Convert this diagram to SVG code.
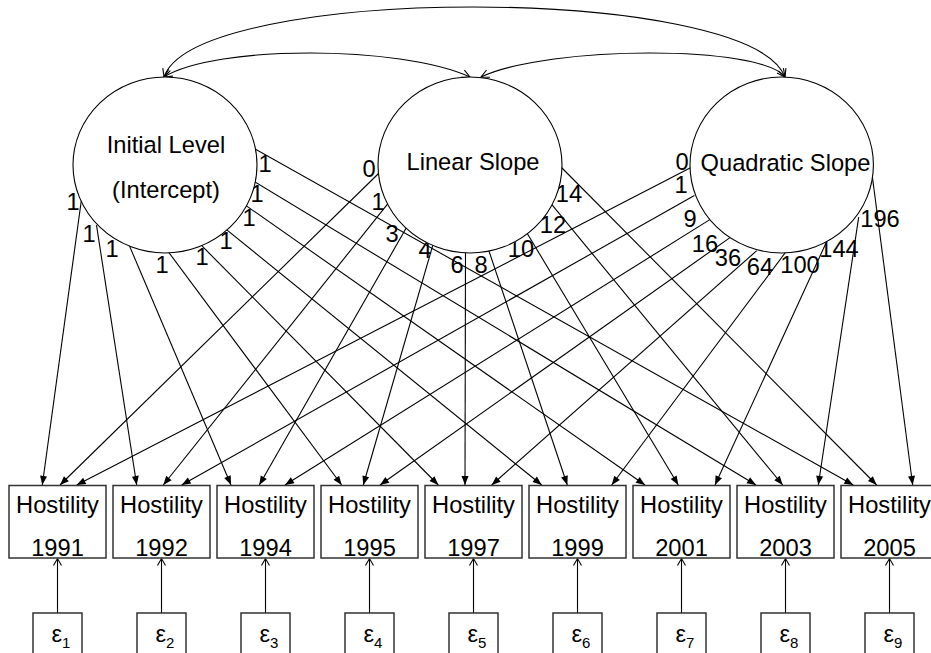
<svg xmlns="http://www.w3.org/2000/svg" width="931" height="653" viewBox="0 0 931 653">
<style>
text{font-family:"Liberation Sans",Arial,"DejaVu Sans",sans-serif;font-size:23.7px;fill:#000}
.c{text-anchor:middle}
.lat{fill:#fff;stroke:#000;stroke-width:1.1}
.obs{fill:#fff;stroke:#333;stroke-width:1.5}
.ln{fill:none;stroke:#000;stroke-width:1.1}
.ld{marker-end:url(#fa)}
.cv{marker-start:url(#oa);marker-end:url(#oa)}
.er{marker-end:url(#ob)}
.sub{font-size:15px}
</style>
<defs>
<marker id="fa" markerUnits="userSpaceOnUse" markerWidth="10" markerHeight="8" refX="9" refY="3.5" orient="auto" overflow="visible">
<path d="M0,0 L9,3.5 L0,7 z" fill="#000"/>
</marker>
<marker id="oa" markerUnits="userSpaceOnUse" markerWidth="10" markerHeight="10" refX="8" refY="4" orient="auto-start-reverse" overflow="visible">
<path d="M0,0 L8,4 L0,8" fill="none" stroke="#000" stroke-width="1.1"/>
</marker>
<marker id="ob" markerUnits="userSpaceOnUse" markerWidth="10" markerHeight="10" refX="7" refY="4" orient="auto" overflow="visible">
<path d="M0,0 L7,4 L0,8" fill="none" stroke="#000" stroke-width="1.1"/>
</marker>
</defs>
<g id="connectors" class="ln">
<path class="cv" d="M164,77 C196,-16.3 750,-16.3 785,77"/>
<path class="cv" d="M164,77 C215,45 400,45 470,77"/>
<path class="cv" d="M481,77 C550,45 761,45 785,77"/>
<g class="ld">
<line x1="81.4" y1="200" x2="42.3" y2="485"/>
<line x1="96.5" y1="225.1" x2="136.7" y2="485"/>
<line x1="128" y1="242.4" x2="231" y2="485"/>
<line x1="167" y1="250" x2="341.7" y2="485"/>
<line x1="199.5" y1="243.4" x2="438.3" y2="485"/>
<line x1="223.1" y1="226.9" x2="541.7" y2="485"/>
<line x1="243.9" y1="204.1" x2="645" y2="485"/>
<line x1="250.7" y1="179.4" x2="756" y2="485"/>
<line x1="252.6" y1="147.6" x2="853.3" y2="485"/>
<line x1="380.6" y1="171.5" x2="60" y2="485"/>
<line x1="389.1" y1="202.1" x2="163.3" y2="485"/>
<line x1="407.5" y1="225.7" x2="259.3" y2="485"/>
<line x1="433.4" y1="243.2" x2="363.3" y2="485"/>
<line x1="465.5" y1="249" x2="465" y2="485"/>
<line x1="488.4" y1="249.3" x2="567.3" y2="485"/>
<line x1="527.4" y1="233.7" x2="678.3" y2="485"/>
<line x1="549.8" y1="202.1" x2="782.7" y2="485"/>
<line x1="558.5" y1="164.5" x2="876.7" y2="485"/>
<line x1="694.4" y1="165.7" x2="76.7" y2="485"/>
<line x1="694.4" y1="195.5" x2="181.7" y2="485"/>
<line x1="710.2" y1="219.4" x2="285" y2="485"/>
<line x1="732.1" y1="236.1" x2="380" y2="485"/>
<line x1="756.7" y1="250.7" x2="491.7" y2="485"/>
<line x1="788" y1="249" x2="611.7" y2="485"/>
<line x1="828.1" y1="238.5" x2="715" y2="485"/>
<line x1="858.7" y1="217.1" x2="818.3" y2="485"/>
<line x1="872.4" y1="177" x2="912.7" y2="485"/>
</g>
<g class="er">
<line x1="57.5" y1="613" x2="57.5" y2="558.5"/>
<line x1="161.5" y1="613" x2="161.5" y2="558.5"/>
<line x1="265.5" y1="613" x2="265.5" y2="558.5"/>
<line x1="369.5" y1="613" x2="369.5" y2="558.5"/>
<line x1="473.5" y1="613" x2="473.5" y2="558.5"/>
<line x1="577.5" y1="613" x2="577.5" y2="558.5"/>
<line x1="681.5" y1="613" x2="681.5" y2="558.5"/>
<line x1="785.5" y1="613" x2="785.5" y2="558.5"/>
<line x1="889.5" y1="613" x2="889.5" y2="558.5"/>
</g>
</g>
<g id="loading-labels" class="c">
<text x="73" y="210">1</text>
<text x="89" y="242">1</text>
<text x="112" y="257">1</text>
<text x="162" y="273">1</text>
<text x="202" y="265">1</text>
<text x="226" y="249">1</text>
<text x="249" y="226">1</text>
<text x="257" y="202">1</text>
<text x="265" y="172">1</text>
<text x="369" y="177">0</text>
<text x="378" y="210">1</text>
<text x="392" y="242">3</text>
<text x="425" y="258">4</text>
<text x="457" y="273">6</text>
<text x="481" y="273">8</text>
<text x="521" y="257">10</text>
<text x="553" y="233">12</text>
<text x="569" y="202">14</text>
<text x="682" y="170">0</text>
<text x="681" y="193">1</text>
<text x="690" y="227">9</text>
<text x="705" y="252">16</text>
<text x="728" y="266">36</text>
<text x="760" y="275">64</text>
<text x="800" y="273">100</text>
<text x="839" y="257">144</text>
<text x="880" y="227">196</text>
</g>
<g id="initial-level">
<ellipse class="lat" cx="165" cy="165" rx="92" ry="88"/>
<text class="c" x="166" y="153">Initial Level</text>
<text class="c" x="166" y="198">(Intercept)</text>
</g>
<g id="linear-slope">
<ellipse class="lat" cx="470" cy="165" rx="92" ry="88"/>
<text class="c" x="473" y="170">Linear Slope</text>
</g>
<g id="quadratic-slope">
<ellipse class="lat" cx="781.7" cy="165" rx="91.7" ry="88"/>
<text class="c" x="785.5" y="171">Quadratic Slope</text>
</g>
<g id="h1991"><rect class="obs" x="9" y="485.5" width="97" height="72.5"/><text class="c" x="57.5" y="512.7">Hostility</text><text class="c" x="57.5" y="556">1991</text></g>
<g id="h1992"><rect class="obs" x="113" y="485.5" width="97" height="72.5"/><text class="c" x="161.5" y="512.7">Hostility</text><text class="c" x="161.5" y="556">1992</text></g>
<g id="h1994"><rect class="obs" x="217" y="485.5" width="97" height="72.5"/><text class="c" x="265.5" y="512.7">Hostility</text><text class="c" x="265.5" y="556">1994</text></g>
<g id="h1995"><rect class="obs" x="321" y="485.5" width="97" height="72.5"/><text class="c" x="369.5" y="512.7">Hostility</text><text class="c" x="369.5" y="556">1995</text></g>
<g id="h1997"><rect class="obs" x="425" y="485.5" width="97" height="72.5"/><text class="c" x="473.5" y="512.7">Hostility</text><text class="c" x="473.5" y="556">1997</text></g>
<g id="h1999"><rect class="obs" x="529" y="485.5" width="97" height="72.5"/><text class="c" x="577.5" y="512.7">Hostility</text><text class="c" x="577.5" y="556">1999</text></g>
<g id="h2001"><rect class="obs" x="633" y="485.5" width="97" height="72.5"/><text class="c" x="681.5" y="512.7">Hostility</text><text class="c" x="681.5" y="556">2001</text></g>
<g id="h2003"><rect class="obs" x="737" y="485.5" width="97" height="72.5"/><text class="c" x="785.5" y="512.7">Hostility</text><text class="c" x="785.5" y="556">2003</text></g>
<g id="h2005"><rect class="obs" x="841" y="485.5" width="97" height="72.5"/><text class="c" x="889.5" y="512.7">Hostility</text><text class="c" x="889.5" y="556">2005</text></g>
<g id="e1"><rect class="obs" x="33" y="613" width="49" height="49"/><text x="51.5" y="642">ε<tspan class="sub" dy="6">1</tspan></text></g>
<g id="e2"><rect class="obs" x="137" y="613" width="49" height="49"/><text x="155.5" y="642">ε<tspan class="sub" dy="6">2</tspan></text></g>
<g id="e3"><rect class="obs" x="241" y="613" width="49" height="49"/><text x="259.5" y="642">ε<tspan class="sub" dy="6">3</tspan></text></g>
<g id="e4"><rect class="obs" x="345" y="613" width="49" height="49"/><text x="363.5" y="642">ε<tspan class="sub" dy="6">4</tspan></text></g>
<g id="e5"><rect class="obs" x="449" y="613" width="49" height="49"/><text x="467.5" y="642">ε<tspan class="sub" dy="6">5</tspan></text></g>
<g id="e6"><rect class="obs" x="553" y="613" width="49" height="49"/><text x="571.5" y="642">ε<tspan class="sub" dy="6">6</tspan></text></g>
<g id="e7"><rect class="obs" x="657" y="613" width="49" height="49"/><text x="675.5" y="642">ε<tspan class="sub" dy="6">7</tspan></text></g>
<g id="e8"><rect class="obs" x="761" y="613" width="49" height="49"/><text x="779.5" y="642">ε<tspan class="sub" dy="6">8</tspan></text></g>
<g id="e9"><rect class="obs" x="865" y="613" width="49" height="49"/><text x="883.5" y="642">ε<tspan class="sub" dy="6">9</tspan></text></g>
</svg>
